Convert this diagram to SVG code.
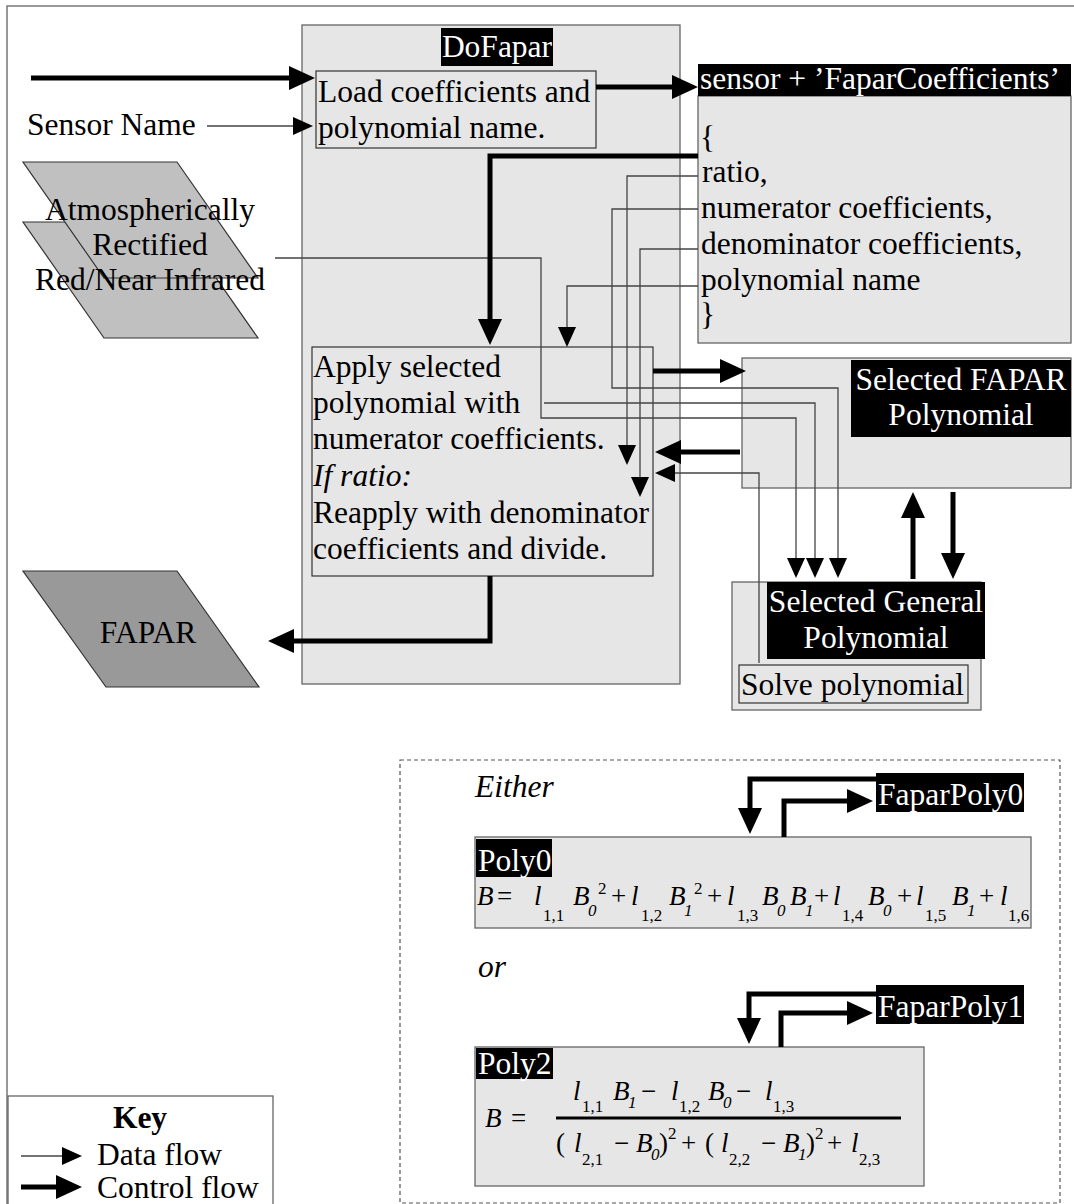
<svg xmlns="http://www.w3.org/2000/svg" width="1074" height="1204" viewBox="0 0 1074 1204">
<defs>
<style>
.frame{fill:none;stroke:#777;stroke-width:1.5}
.box{fill:#e6e6e6;stroke:#666;stroke-width:1.3}
.inner{fill:#e6e6e6;stroke:#333;stroke-width:1.2}
.data{fill:#c0c0c0;stroke:#333;stroke-width:1.2}
.out{fill:#999;stroke:#333;stroke-width:1.2}
.tag{fill:#000}
.t{font-family:"Liberation Serif","Times New Roman",serif;font-size:31.5px;fill:#000}
.w{fill:#fff}
.i{font-style:italic}
.b{font-weight:bold}
.mid{text-anchor:middle}
.thin{fill:none;stroke:#444;stroke-width:1.3}
.thick{fill:none;stroke:#000;stroke-width:5}
.dash{fill:none;stroke:#555;stroke-width:1.2;stroke-dasharray:4 3}
.eq{font-family:"Liberation Serif","Times New Roman",serif;font-size:27px;fill:#000}
.s{font-size:17px}
</style>
<marker id="arrThin" markerUnits="userSpaceOnUse" viewBox="-1 -9 21 18" markerWidth="21" markerHeight="18" refX="0" refY="0" orient="auto">
<path d="M-1,-9 L19,0 L-1,9 z" fill="#000"/>
</marker>
<marker id="arrThick" markerUnits="userSpaceOnUse" viewBox="-1 -12 26 24" markerWidth="26" markerHeight="24" refX="0" refY="0" orient="auto">
<path d="M-1,-12 L25,0 L-1,12 z" fill="#000"/>
</marker>
</defs>

<rect width="1074" height="1204" fill="#fff"/>
<path class="frame" d="M7,1204 V6 H1074"/>

<!-- main procedure -->
<g id="n-dofapar">
<rect class="box" x="302" y="25" width="378" height="659"/>
<rect class="tag" x="441" y="28" width="112" height="38"/>
<text class="t w mid" x="497" y="57">DoFapar</text>
</g>

<g id="n-load">
<rect class="inner" x="316" y="71" width="280" height="77"/>
<text class="t" x="318" y="102">Load coefficients and</text>
<text class="t" x="318" y="138">polynomial name.</text>
</g>

<g id="n-apply">
<rect class="inner" x="312" y="347" width="341" height="229"/>
<text class="t" x="313" y="377">Apply selected</text>
<text class="t" x="313" y="413">polynomial with</text>
<text class="t" x="313" y="449">numerator coefficients.</text>
<text class="t i" x="313" y="486">If ratio:</text>
<text class="t" x="313" y="523">Reapply with denominator</text>
<text class="t" x="313" y="559">coefficients and divide.</text>
</g>

<g id="n-coeffs">
<rect class="box" x="698" y="96" width="373" height="247"/>
<rect class="tag" x="698" y="64" width="373" height="32"/>
<text class="t w" x="700" y="89">sensor + ’FaparCoefficients’</text>
<text class="t" x="700" y="148">{</text>
<text class="t" x="702" y="182">ratio,</text>
<text class="t" x="701" y="218">numerator coefficients,</text>
<text class="t" x="701" y="254">denominator coefficients,</text>
<text class="t" x="701" y="290">polynomial name</text>
<text class="t" x="700" y="325">}</text>
</g>

<g id="n-sensor-name">
<text class="t" x="27" y="135">Sensor Name</text>
</g>

<g id="n-imagery">
<polygon class="data" points="23,222 177,222 258,338 104,338"/>
<polygon class="data" points="23,162 177,162 258,278 104,278"/>
<text class="t mid" x="150" y="220">Atmospherically</text>
<text class="t mid" x="150" y="255">Rectified</text>
<text class="t mid" x="150" y="290">Red/Near Infrared</text>
</g>

<g id="n-fapar">
<polygon class="out" points="23,571 177,571 259,687 106,687"/>
<text class="t mid" x="148" y="643">FAPAR</text>
</g>

<g id="n-sel-fapar">
<rect class="box" x="742" y="358" width="329" height="130"/>
<rect class="tag" x="851" y="360" width="220" height="77"/>
<text class="t w mid" x="961" y="390">Selected FAPAR</text>
<text class="t w mid" x="961" y="425">Polynomial</text>
</g>

<g id="n-sel-general">
<rect class="box" x="732" y="582" width="249" height="128"/>
<rect class="tag" x="767" y="582" width="218" height="77"/>
<text class="t w mid" x="876" y="612">Selected General</text>
<text class="t w mid" x="876" y="648">Polynomial</text>
</g>

<g id="n-solve">
<rect class="inner" x="739" y="665" width="229" height="38"/>
<text class="t" x="741" y="695">Solve polynomial</text>
</g>

<!-- the two polynomial forms -->
<g id="n-alternatives">
<rect class="dash" x="400" y="760" width="660" height="443"/>
<text class="t i" x="475" y="797">Either</text>
<text class="t i" x="478" y="977">or</text>
</g>

<g id="n-faparpoly0">
<rect class="tag" x="876" y="773" width="148" height="39"/>
<text class="t w" x="878" y="805">FaparPoly0</text>
</g>

<g id="n-poly0">
<rect class="box" x="475" y="837" width="556" height="91"/>
<rect class="tag" x="476" y="839" width="76" height="38"/>
<text class="t w" x="478" y="871">Poly0</text>
<text class="eq">
<tspan class="i" x="477" y="905">B</tspan><tspan x="497" y="905">=</tspan>
<tspan class="i" x="534" y="905">l</tspan><tspan class="s" x="543" y="921">1,1</tspan>
<tspan class="i" x="573" y="905">B</tspan><tspan class="s i" x="588" y="916">0</tspan><tspan class="s" x="598" y="894">2</tspan>
<tspan x="611" y="905">+</tspan>
<tspan class="i" x="631" y="905">l</tspan><tspan class="s" x="641" y="921">1,2</tspan>
<tspan class="i" x="669" y="905">B</tspan><tspan class="s i" x="684" y="916">1</tspan><tspan class="s" x="694" y="894">2</tspan>
<tspan x="707" y="905">+</tspan>
<tspan class="i" x="727" y="905">l</tspan><tspan class="s" x="737" y="921">1,3</tspan>
<tspan class="i" x="762" y="905">B</tspan><tspan class="s i" x="777" y="916">0</tspan>
<tspan class="i" x="790" y="905">B</tspan><tspan class="s i" x="805" y="916">1</tspan>
<tspan x="814" y="905">+</tspan>
<tspan class="i" x="833" y="905">l</tspan><tspan class="s" x="842" y="921">1,4</tspan>
<tspan class="i" x="868" y="905">B</tspan><tspan class="s i" x="883" y="916">0</tspan>
<tspan x="897" y="905">+</tspan>
<tspan class="i" x="916" y="905">l</tspan><tspan class="s" x="925" y="921">1,5</tspan>
<tspan class="i" x="952" y="905">B</tspan><tspan class="s i" x="967" y="916">1</tspan>
<tspan x="979" y="905">+</tspan>
<tspan class="i" x="1000" y="905">l</tspan><tspan class="s" x="1008" y="921">1,6</tspan>
</text>
</g>

<g id="n-faparpoly1">
<rect class="tag" x="876" y="985" width="148" height="39"/>
<text class="t w" x="878" y="1017">FaparPoly1</text>
</g>

<g id="n-poly2">
<rect class="box" x="475" y="1047" width="449" height="139"/>
<rect class="tag" x="476" y="1048" width="77" height="31"/>
<text class="t w" x="478" y="1074">Poly2</text>
<text class="eq">
<tspan class="i" x="485" y="1127">B</tspan><tspan x="511" y="1127">=</tspan>
<tspan class="i" x="573" y="1100">l</tspan><tspan class="s" x="582" y="1112">1,1</tspan>
<tspan class="i" x="613" y="1100">B</tspan><tspan class="s i" x="628" y="1108">1</tspan>
<tspan x="641" y="1100">−</tspan>
<tspan class="i" x="671" y="1100">l</tspan><tspan class="s" x="679" y="1112">1,2</tspan>
<tspan class="i" x="708" y="1100">B</tspan><tspan class="s i" x="723" y="1108">0</tspan>
<tspan x="736" y="1100">−</tspan>
<tspan class="i" x="765" y="1100">l</tspan><tspan class="s" x="773" y="1112">1,3</tspan>
<tspan x="556" y="1152">(</tspan><tspan class="i" x="574" y="1152">l</tspan><tspan class="s" x="582" y="1165">2,1</tspan>
<tspan x="614" y="1152">−</tspan>
<tspan class="i" x="636" y="1152">B</tspan><tspan class="s i" x="651" y="1160">0</tspan><tspan x="659" y="1152">)</tspan><tspan class="s" x="668" y="1139">2</tspan>
<tspan x="681" y="1152">+</tspan>
<tspan x="705" y="1152">(</tspan><tspan class="i" x="721" y="1152">l</tspan><tspan class="s" x="729" y="1165">2,2</tspan>
<tspan x="761" y="1152">−</tspan>
<tspan class="i" x="783" y="1152">B</tspan><tspan class="s i" x="798" y="1160">1</tspan><tspan x="806" y="1152">)</tspan><tspan class="s" x="815" y="1139">2</tspan>
<tspan x="827" y="1152">+</tspan>
<tspan class="i" x="851" y="1152">l</tspan><tspan class="s" x="859" y="1165">2,3</tspan>
</text>
<line x1="556" y1="1118" x2="901" y2="1118" stroke="#000" stroke-width="3"/>
</g>

<g id="key">
<rect x="8" y="1096" width="265" height="117" fill="#fff" stroke="#666" stroke-width="1.3"/>
<text class="t b mid" x="140" y="1128">Key</text>
<path class="thin" d="M21,1156 H63" marker-end="url(#arrThin)"/>
<text class="t" x="97" y="1165">Data flow</text>
<path class="thick" d="M21,1187 H57" marker-end="url(#arrThick)"/>
<text class="t" x="97" y="1198">Control flow</text>
</g>

<g id="connectors">
<!-- data flow -->
<path class="thin" d="M207,126 H294" marker-end="url(#arrThin)"/>
<path class="thin" d="M698,176 H627 V446" marker-end="url(#arrThin)"/>
<path class="thin" d="M698,209 H612 V388 H838 V559" marker-end="url(#arrThin)"/>
<path class="thin" d="M698,249 H640 V478" marker-end="url(#arrThin)"/>
<path class="thin" d="M698,286 H567 V328" marker-end="url(#arrThin)"/>
<path class="thin" d="M275,258 H541 V418 H796 V559" marker-end="url(#arrThin)"/>
<path class="thin" d="M544,403 H815 V559" marker-end="url(#arrThin)"/>
<path class="thin" d="M759,663 V473 H674" marker-end="url(#arrThin)"/>
<!-- control flow -->
<path class="thick" d="M31,78 H290" marker-end="url(#arrThick)"/>
<path class="thick" d="M596,87 H673" marker-end="url(#arrThick)"/>
<path class="thick" d="M698,156 H490 V320" marker-end="url(#arrThick)"/>
<path class="thick" d="M653,371 H721" marker-end="url(#arrThick)"/>
<path class="thick" d="M740,452 H680" marker-end="url(#arrThick)"/>
<path class="thick" d="M490,576 V641 H293" marker-end="url(#arrThick)"/>
<path class="thick" d="M913,579 V517" marker-end="url(#arrThick)"/>
<path class="thick" d="M953,492 V554" marker-end="url(#arrThick)"/>
<path class="thick" d="M876,779 H750 V809" marker-end="url(#arrThick)"/>
<path class="thick" d="M784,837 V801 H848" marker-end="url(#arrThick)"/>
<path class="thick" d="M876,994 H749 V1019" marker-end="url(#arrThick)"/>
<path class="thick" d="M781,1047 V1013 H848" marker-end="url(#arrThick)"/>
</g>
</svg>
